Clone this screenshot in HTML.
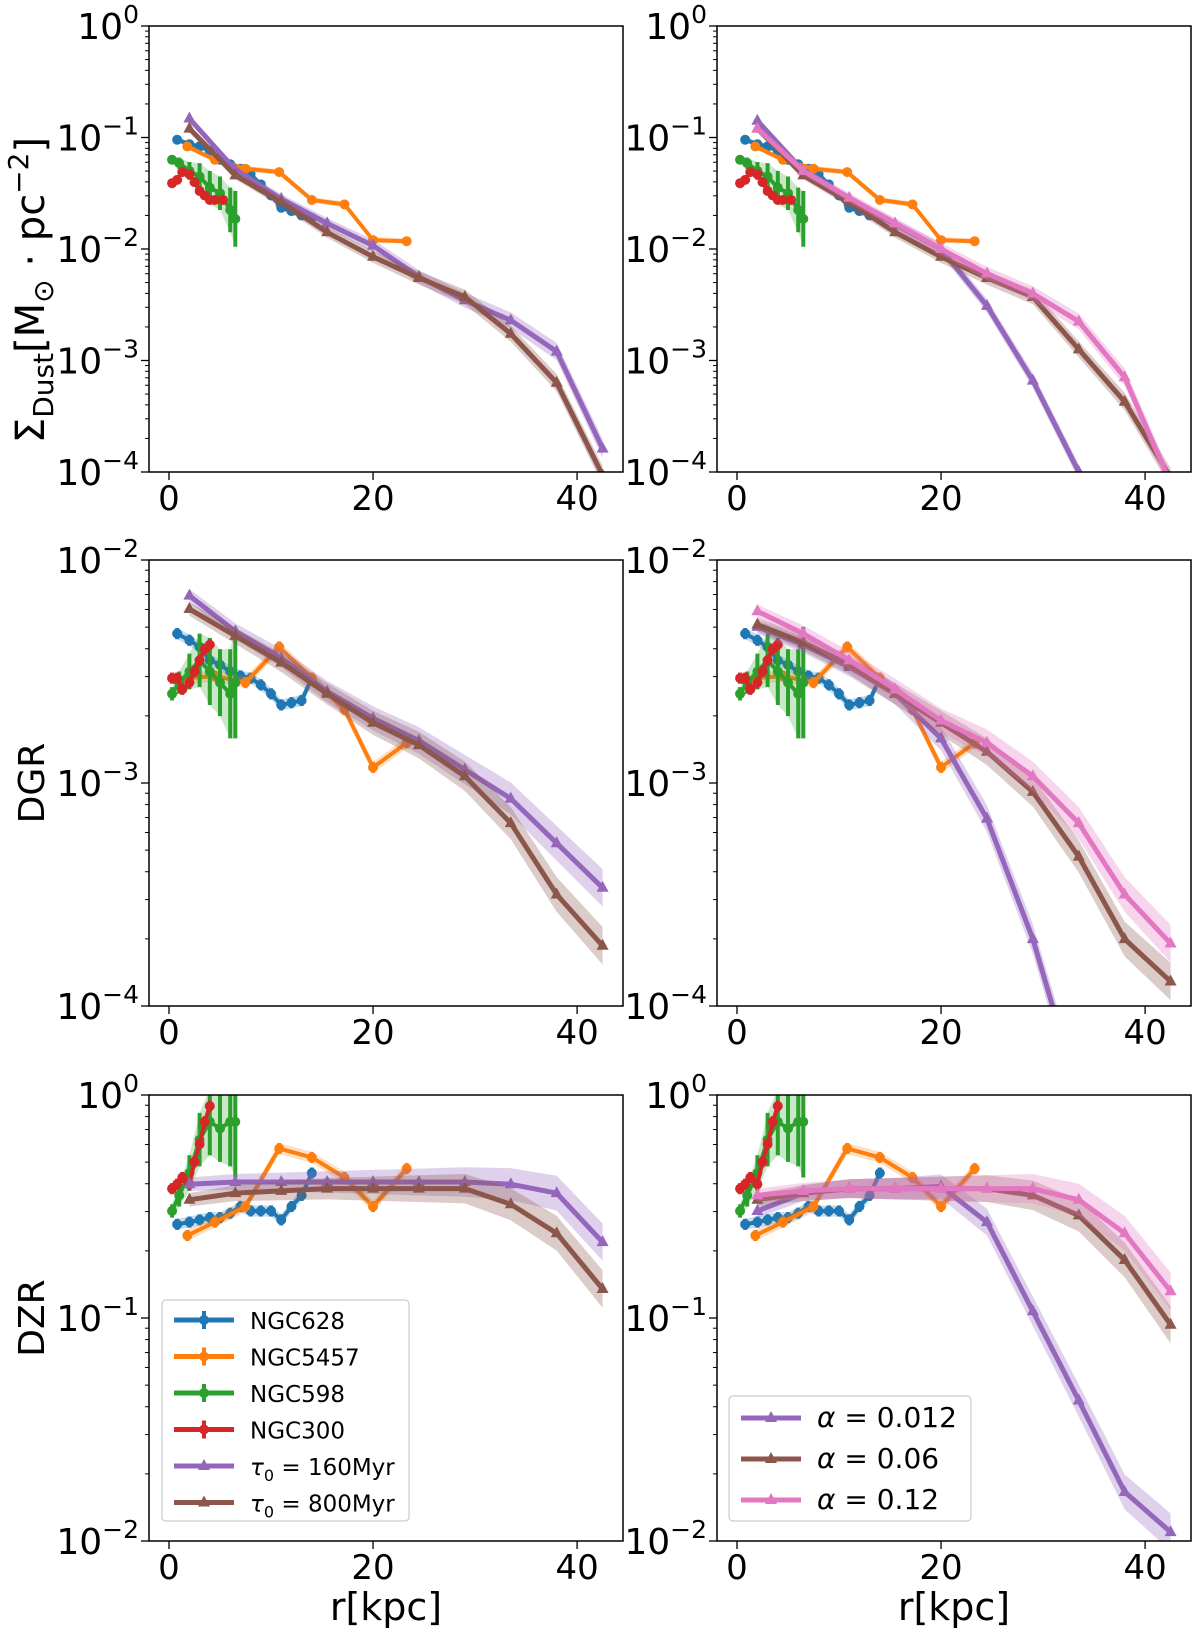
<!DOCTYPE html>
<html><head><meta charset="utf-8">
<style>
html,body{margin:0;padding:0;background:#fff;}
svg{display:block;font-family:"DejaVu Sans","Liberation Sans",sans-serif;}
</style></head>
<body>
<svg id="fig" width="1200" height="1637" viewBox="0 0 1200 1637" xmlns="http://www.w3.org/2000/svg"></svg>
<script>
// ---------- data (log10 values) ----------
const modelX = [2, 6.5, 11, 15.5, 20, 24.5, 29, 33.5, 38, 42.5];
// row 1: dust surface density
const sdTau160 = [-0.83,-1.29,-1.55,-1.77,-1.97,-2.25,-2.46,-2.64,-2.92,-3.79];
const sdTau800 = [-0.92,-1.34,-1.58,-1.85,-2.07,-2.26,-2.43,-2.76,-3.20,-4.03];
const sdA012 = [-0.85,-1.30,-1.56,-1.78,-2.00,-2.51,-3.18,-4.00,-4.90,-5.80];
const sdA06 = [-0.92,-1.34,-1.58,-1.85,-2.07,-2.26,-2.43,-2.90,-3.37,-4.05];
const sdA12 = [-0.92,-1.30,-1.54,-1.77,-2.00,-2.22,-2.40,-2.65,-3.15,-4.10];
// row 2: DGR
const dgTau160 = [-2.16,-2.32,-2.44,-2.59,-2.71,-2.81,-2.94,-3.07,-3.27,-3.47];
const dgTau800 = [-2.22,-2.34,-2.46,-2.60,-2.73,-2.83,-2.97,-3.18,-3.50,-3.73];
const dgA012 = [-2.30,-2.38,-2.48,-2.60,-2.80,-3.16,-3.70,-4.40,-5.2,-6.0];
const dgA06 = [-2.29,-2.37,-2.47,-2.60,-2.73,-2.86,-3.04,-3.33,-3.70,-3.89];
const dgA12 = [-2.23,-2.33,-2.45,-2.58,-2.72,-2.82,-2.97,-3.18,-3.50,-3.72];
// row 3: DZR
const dzTau160 = [-0.40,-0.39,-0.39,-0.39,-0.39,-0.39,-0.39,-0.40,-0.44,-0.66];
const dzTau800 = [-0.47,-0.44,-0.43,-0.42,-0.42,-0.42,-0.42,-0.49,-0.62,-0.87];
const dzA012 = [-0.52,-0.44,-0.42,-0.42,-0.41,-0.57,-0.97,-1.37,-1.78,-1.96];
const dzA06 = [-0.47,-0.44,-0.42,-0.42,-0.42,-0.42,-0.45,-0.54,-0.74,-1.03];
const dzA12 = [-0.45,-0.43,-0.42,-0.42,-0.42,-0.42,-0.42,-0.47,-0.62,-0.88];
// observations
const x628 = [0.8,2,3,4,5,6,7,8,9,10,11,12,13,14];
const sd628 = [-1.02,-1.06,-1.08,-1.12,-1.2,-1.24,-1.28,-1.33,-1.42,-1.52,-1.63,-1.66,-1.7,-1.72];
const dg628 = [-2.33,-2.36,-2.39,-2.45,-2.47,-2.5,-2.52,-2.53,-2.56,-2.6,-2.65,-2.64,-2.63,-2.53];
const dz628 = [-0.58,-0.57,-0.56,-0.55,-0.55,-0.53,-0.5,-0.52,-0.52,-0.52,-0.56,-0.5,-0.45,-0.35];
const x5457 = [1.8,4.5,7.5,10.8,14,17.2,20,23.3];
const sd5457 = [-1.08,-1.2,-1.28,-1.31,-1.56,-1.6,-1.92,-1.93];
const dg5457 = [-2.53,-2.52,-2.55,-2.39,-2.53,-2.67,-2.93,-2.82];
const dz5457 = [-0.63,-0.57,-0.5,-0.24,-0.28,-0.37,-0.5,-0.33];
const x598 = [0.3,1,2,3,4,5,6,6.5];
const sd598 = [-1.2,-1.23,-1.3,-1.35,-1.45,-1.5,-1.65,-1.73];
const dg598 = [-2.6,-2.55,-2.5,-2.45,-2.5,-2.55,-2.6,-2.55];
const dz598 = [-0.52,-0.45,-0.35,-0.2,-0.12,-0.15,-0.12,-0.12];
const err598 = [0.03,0.05,0.08,0.12,0.15,0.15,0.2,0.25];
const x300 = [0.3,0.8,1.3,2,2.5,3,3.5,4,4.5,5.3];
const sd300 = [-1.41,-1.38,-1.31,-1.33,-1.4,-1.48,-1.52,-1.56,-1.56,-1.56];
const dg300 = [-2.53,-2.53,-2.58,-2.55,-2.5,-2.45,-2.4,-2.38,null,null];
const dz300 = [-0.42,-0.4,-0.37,-0.4,-0.3,-0.22,-0.12,-0.05,null,null];
const xTicks = [0, 20, 40];

const C = {blue:'#1f77b4',orange:'#ff7f0e',green:'#2ca02c',red:'#d62728',purple:'#9467bd',brown:'#8c564b',pink:'#e377c2'};
const NS='http://www.w3.org/2000/svg';
const svg=document.getElementById('fig');
function mk(tag,attrs,parent){const e=document.createElementNS(NS,tag);for(const k in attrs)e.setAttribute(k,attrs[k]);(parent||svg).appendChild(e);return e;}

const cols=[[149,623],[717,1191]];
const rows=[[26,472,0,-4],[560,1006,-2,-4],[1095,1541,0,-2]];
const xmin=-1.96, xmax=44.5;

function panel(ci,ri,name,obs,models){
  const [x0,x1]=cols[ci],[y0,y1,ytop,ybot]=rows[ri];
  const sx=v=>x0+(v-xmin)/(xmax-xmin)*(x1-x0);
  const sy=v=>y0+(ytop-v)/(ytop-ybot)*(y1-y0);
  const g=mk('g',{});
  
  
  const cid='clip'+ci+ri;
  const cp=mk('clipPath',{id:cid},g);mk('rect',{x:x0,y:y0,width:x1-x0,height:y1-y0},cp);
  const pg=mk('g',{'clip-path':'url(#'+cid+')'},g);
  obs.forEach(o=>{
    const pts=[];o.x.forEach((x,i)=>{if(o.y[i]!==null)pts.push([x,o.y[i],o.e?o.e[i]:0.025]);});
    const up=pts.map(p=>sx(p[0])+','+sy(p[1]+p[2]));const dn=pts.slice().reverse().map(p=>sx(p[0])+','+sy(p[1]-p[2]));
    mk('polygon',{points:up.concat(dn).join(' '),fill:o.c,'fill-opacity':0.25,stroke:'none'},pg);
    const ln=mk('polyline',{points:pts.map(p=>sx(p[0])+','+sy(p[1])).join(' '),fill:'none',stroke:o.c,'stroke-width':4},pg);
    
    
    pts.forEach(p=>{
      mk('line',{x1:sx(p[0]),x2:sx(p[0]),y1:sy(p[1]+p[2]),y2:sy(p[1]-p[2]),stroke:o.c,'stroke-width':4},pg);
      const m=mk('circle',{cx:sx(p[0]),cy:sy(p[1]),r:5,fill:o.c},pg);
      
      
    });
  });
  models.forEach(m=>{
    const w=modelX.map((x,i)=>0.03+0.006*i);
    const up=modelX.map((x,i)=>sx(x)+','+sy(m.y[i]+w[i]));const dn=modelX.map((x,i)=>sx(x)+','+sy(m.y[i]-w[i])).reverse();
    mk('polygon',{points:up.concat(dn).join(' '),fill:m.c,'fill-opacity':0.3,stroke:'none'},pg);
    const ln=mk('polyline',{points:modelX.map((x,i)=>sx(x)+','+sy(m.y[i])).join(' '),fill:'none',stroke:m.c,'stroke-width':5},pg);
    
    
    modelX.forEach((x,i)=>{const X=sx(x),Y=sy(m.y[i]);
      const t=mk('polygon',{points:`${X},${Y-7} ${X-6},${Y+4} ${X+6},${Y+4}`,fill:m.c},pg);
      
      });
  });
  mk('rect',{x:x0,y:y0,width:x1-x0,height:y1-y0,fill:'none',stroke:'#000','stroke-width':1.5},g);
  for(let d=ybot;d<=ytop;d++){
    const Y=sy(d);mk('line',{x1:x0-8,x2:x0,y1:Y,y2:Y,stroke:'#000','stroke-width':1.3},g);
    const t=mk('text',{x:x0-10,y:Y+13,'text-anchor':'end','font-size':36,fill:'#000'},g);
    
    
    t.textContent='10';
    const s=mk('tspan',{dy:-16,'font-size':25},t);s.textContent=(d<0?'\u2212'+(-d):''+d);
    if(d<ytop)for(let k=2;k<10;k++){const yy=sy(d+Math.log10(k));mk('line',{x1:x0-4,x2:x0,y1:yy,y2:yy,stroke:'#000','stroke-width':1},g);}
  }
  xTicks.forEach(v=>{const X=sx(v);mk('line',{x1:X,x2:X,y1:y1,y2:y1+8,stroke:'#000','stroke-width':1.3},g);
    const t=mk('text',{x:X,y:y1+38,'text-anchor':'middle','font-size':34,fill:'#000'},g);
    
    
    t.textContent=v;});
}
function obsSet(k){
  const Y={sd:[sd628,sd5457,sd598,sd300],dg:[dg628,dg5457,dg598,dg300],dz:[dz628,dz5457,dz598,dz300]}[k];
  return [{n:'ngc628',c:C.blue,x:x628,y:Y[0]},{n:'ngc5457',c:C.orange,x:x5457,y:Y[1]},
          {n:'ngc598',c:C.green,x:x598,y:Y[2],e:err598},{n:'ngc300',c:C.red,x:x300,y:Y[3]}];
}
panel(0,0,'dust-density-tau-panel',obsSet('sd'),[{n:'tau160',c:C.purple,y:sdTau160},{n:'tau800',c:C.brown,y:sdTau800}]);
panel(1,0,'dust-density-alpha-panel',obsSet('sd'),[{n:'alpha-0012',c:C.purple,y:sdA012},{n:'alpha-006',c:C.brown,y:sdA06},{n:'alpha-012',c:C.pink,y:sdA12}]);
panel(0,1,'dgr-tau-panel',obsSet('dg'),[{n:'tau160',c:C.purple,y:dgTau160},{n:'tau800',c:C.brown,y:dgTau800}]);
panel(1,1,'dgr-alpha-panel',obsSet('dg'),[{n:'alpha-0012',c:C.purple,y:dgA012},{n:'alpha-006',c:C.brown,y:dgA06},{n:'alpha-012',c:C.pink,y:dgA12}]);
panel(0,2,'dzr-tau-panel',obsSet('dz'),[{n:'tau160',c:C.purple,y:dzTau160},{n:'tau800',c:C.brown,y:dzTau800}]);
panel(1,2,'dzr-alpha-panel',obsSet('dz'),[{n:'alpha-0012',c:C.purple,y:dzA012},{n:'alpha-006',c:C.brown,y:dzA06},{n:'alpha-012',c:C.pink,y:dzA12}]);

function legend(x,y,w,h,items,name){
  const g=mk('g',{});
  
  
  mk('rect',{x,y,width:w,height:h,rx:4,fill:'#fff','fill-opacity':0.85,stroke:'#ccc','stroke-width':1.2},g);
  items.forEach((it,i)=>{const Y=y+it.dy0+i*it.step;
    mk('line',{x1:x+12,x2:x+72,y1:Y,y2:Y,stroke:it.c,'stroke-width':5},g);
    if(it.tri)mk('polygon',{points:`${x+42},${Y-7} ${x+36},${Y+4} ${x+48},${Y+4}`,fill:it.c},g);
    else{mk('line',{x1:x+42,x2:x+42,y1:Y-9,y2:Y+9,stroke:it.c,'stroke-width':4},g);mk('circle',{cx:x+42,cy:Y,r:5,fill:it.c},g);}
    const t=mk('text',{x:x+88,y:Y+9,'font-size':it.fs,fill:'#000'},g);
    
    
    t.innerHTML=it.t;});
}
const L1=[['NGC628',C.blue,0],['NGC5457',C.orange,0],['NGC598',C.green,0],['NGC300',C.red,0],
 ['<tspan font-style="italic">τ</tspan><tspan font-size="16" dy="6">0</tspan><tspan dy="-6"> = 160Myr</tspan>',C.purple,1],
 ['<tspan font-style="italic">τ</tspan><tspan font-size="16" dy="6">0</tspan><tspan dy="-6"> = 800Myr</tspan>',C.brown,1]];
legend(162,1300,247,221,L1.map(a=>({t:a[0],c:a[1],tri:a[2],dy0:20,step:36.5,fs:23})),'legend-tau');
const L2=[['<tspan font-style="italic">α</tspan> = 0.012',C.purple],['<tspan font-style="italic">α</tspan> = 0.06',C.brown],['<tspan font-style="italic">α</tspan> = 0.12',C.pink]];
legend(729,1396,242,125,L2.map(a=>({t:a[0],c:a[1],tri:1,dy0:22,step:41,fs:28})),'legend-alpha');

function txt(x,y,s,size,name,rot){const t=mk('text',{x,y,'text-anchor':'middle','font-size':size,fill:'#000'});
  if(rot)t.setAttribute('transform',`rotate(-90 ${x} ${y})`);
  
  
  t.innerHTML=s;return t;}
txt(44,290,'Σ<tspan font-size="28" dy="9">Dust</tspan><tspan dy="-9">[M</tspan><tspan font-size="28" dy="9">⊙</tspan><tspan dy="-9"> · pc</tspan><tspan font-size="28" dy="-16">−2</tspan><tspan dy="16">]</tspan>',40,'y-axis-title-dust',true);
txt(44,783,'DGR',36,'y-axis-title-dgr',true);
txt(44,1318,'DZR',36,'y-axis-title-dzr',true);
txt(386,1620,'r[kpc]',38,'x-axis-title-left');
txt(954,1620,'r[kpc]',38,'x-axis-title-right');
</script>
</body></html>
